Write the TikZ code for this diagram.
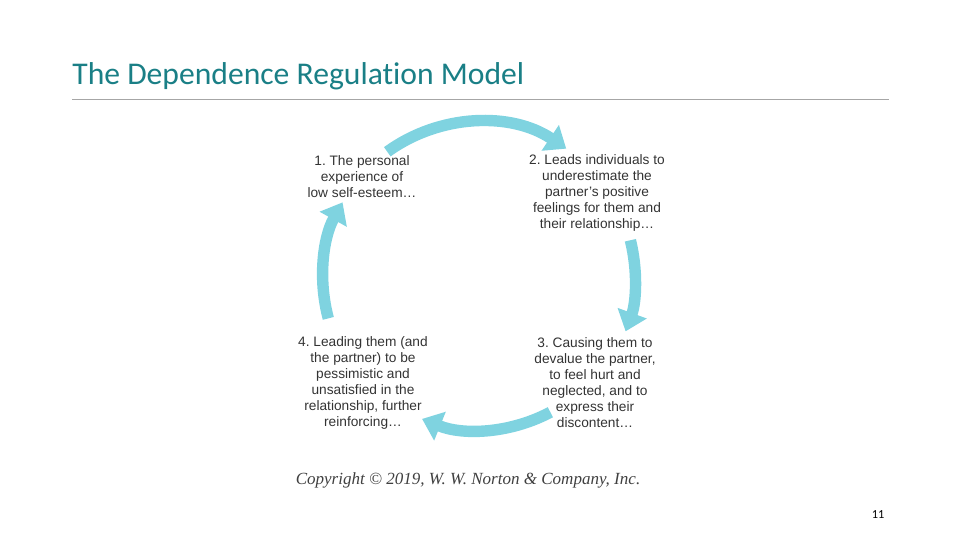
\documentclass[tikz,border=0pt]{standalone}
\usepackage{fontspec}
\setmainfont{Liberation Sans}
\newfontfamily\titlefont{Carlito}
\newfontfamily\serifit{Liberation Serif}
\usetikzlibrary{arrows.meta}
\definecolor{cyc}{HTML}{7FD3E0}
\definecolor{ttl}{HTML}{1A7F86}
\frenchspacing
\tikzset{
 cycarrow/.style={draw=cyc,line width=6.5pt,-{Triangle[length=11pt,width=17pt]}},
 lbl/.style={align=center,font=\fontsize{7.8}{9.1}\selectfont,text=black!80,inner sep=0pt}
}
\begin{document}
\begin{tikzpicture}[x=0.02cm,y=-0.02cm]
\useasboundingbox (0,0) rectangle (960,540);
\node[anchor=west,inner sep=0pt,font=\titlefont\fontsize{18}{20}\selectfont,text=ttl] (title) at (72,76) {The Dependence Regulat\kern0pt ion Model};
\coordinate (l1) at (72,99); \coordinate (l2) at (889,99);
\draw[gray!70,line width=0.5pt] (l1) -- (l2);
\coordinate (c) at (479,278);
\draw[cycarrow] (c) ++(-126:156) arc[start angle=-126,end angle=-56,radius=156];
\draw[cycarrow] (c) ++(-14:156) arc[start angle=-14,end angle=20,radius=156];
\draw[cycarrow] (c) ++(62:152) arc[start angle=62,end angle=112,radius=152];
\draw[cycarrow] (c) ++(-195:156) arc[start angle=-195,end angle=-151,radius=156];
\node[lbl] (n1) at (362,177) {1. The personal\\experience of\\low self-esteem\dots};
\node[lbl] (n2) at (597,193) {2. Leads individuals to\\underestimate the\\partner’s positive\\feelings for them and\\their relationship\dots};
\node[lbl] (n3) at (595,383) {3. Causing them to\\devalue the partner,\\to feel hurt and\\neglected, and to\\express their\\discontent\dots};
\node[lbl] (n4) at (363,383) {4. Leading them (and\\the partner) to be\\pessimistic and\\unsatisfied in the\\relationship, further\\reinforcing\dots};
\node[inner sep=0pt,font=\serifit\itshape\fontsize{9.7}{10}\selectfont,text=black!75] (copy) at (468,480) {Copyright © 2019, W. W. Norton \& Company, Inc.};
\node[inner sep=0pt,font=\titlefont\fontsize{7}{8}\selectfont] (pg) at (878,515) {11};
\end{tikzpicture}
\end{document}
